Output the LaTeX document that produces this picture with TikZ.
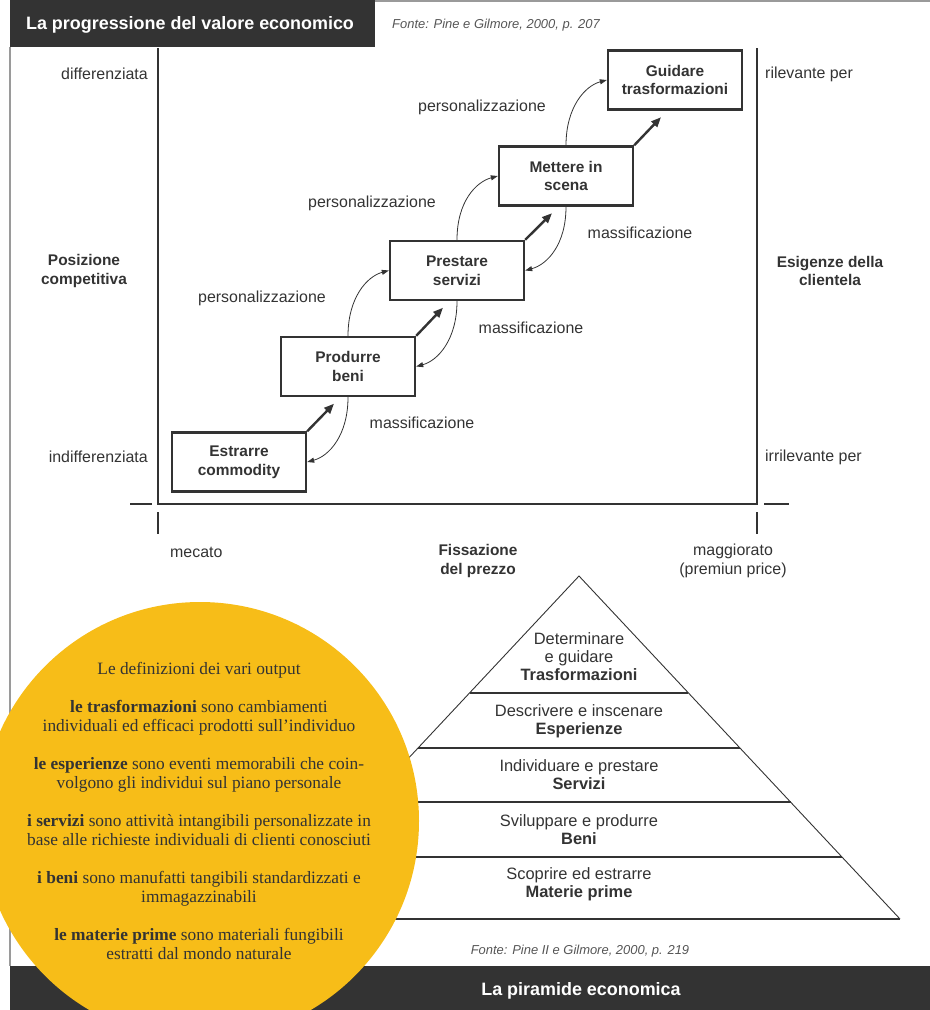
\documentclass[tikz,border=0pt]{standalone}
\usepackage{fontspec}
\setmainfont{Liberation Sans}
\newfontfamily\circfont{Liberation Serif}
\usetikzlibrary{arrows.meta,calc}
\definecolor{dk}{HTML}{333333}
\definecolor{yel}{HTML}{F7BD18}
\definecolor{fr}{HTML}{9A9A9A}
\definecolor{src}{HTML}{555555}
\begin{document}
\begin{tikzpicture}[x=1bp,y=-1bp,
  stepbox/.style={draw=dk, line width=2.4bp, minimum width=134bp, minimum height=59bp, inner sep=0pt, align=center, text=dk, font=\fontsize{15.5}{19}\selectfont\bfseries},
  lbl/.style={text=dk, font=\fontsize{16}{19}\selectfont, inner sep=0pt},
  blbl/.style={text=dk, font=\fontsize{15.5}{18.5}\selectfont\bfseries, align=center, inner sep=0pt},
  pyrlbl/.style={text=dk, font=\fontsize{16.5}{18}\selectfont, align=center, inner sep=0pt},
  srclbl/.style={text=src, font=\fontsize{13}{15}\selectfont\itshape, inner sep=0pt},
  barlbl/.style={text=white, font=\fontsize{18}{20}\selectfont\bfseries, inner sep=0pt},
  thickarr/.style={draw=dk, line width=2.4bp, -{Triangle[length=10bp,width=8bp]}},
  thinarr/.style={draw=dk, line width=0.8bp, -{Triangle[length=7bp,width=5bp]}},
  circtext/.style={text=dk, font=\circfont\fontsize{17.4}{19}\selectfont, align=center, inner sep=0pt},
  divline/.style={draw=dk, line width=2bp},
  frameline/.style={draw=fr, line width=2bp},
  axisline/.style={draw=dk, line width=1.1bp}
]
\useasboundingbox (0,0) rectangle (930,1010);
\clip (0,0) rectangle (930,1010);

% frame
\draw[frameline] (10,47) -- (10,966);
\draw[frameline] (375,1) -- (930,1);
\fill[dk] (10,0) rectangle (375,47);
\node[barlbl] (title) at (190,25) {La progressione del valore economico};
\node[srclbl, anchor=west] (src1) at (392,25) {Fonte: Pine e Gilmore, 2000, p. 207};

% axes
\draw[axisline] (158,48) -- (158,504) -- (757,504) -- (757,48);
\draw[axisline] (130,504) -- (152,504);
\draw[axisline] (764,504) -- (789,504);
\draw[axisline] (158,512) -- (158,534);
\draw[axisline] (757,512) -- (757,534);

% boxes
\node[stepbox] (E) at (239,462) {Estrarre\\commodity};
\node[stepbox] (P) at (348,366.5) {Produrre\\beni};
\node[stepbox] (S) at (457,270.5) {Prestare\\servizi};
\node[stepbox] (M) at (566,176) {Mettere in\\scena};
\node[stepbox] (G) at (675,80) {Guidare\\trasformazioni};

% thick arrows
\draw[thickarr] (E.north east) -- ($(P.south)+(-14,6.5)$);
\draw[thickarr] (P.north east) -- ($(S.south)+(-14,6.5)$);
\draw[thickarr] (S.north east) -- ($(M.south)+(-14,6.5)$);
\draw[thickarr] (M.north east) -- ($(G.south)+(-14,6.5)$);

% massificazione
\draw[thinarr] (P.south) .. controls +(0,38) and +(22,-6) .. (E.east);
\draw[thinarr] (S.south) .. controls +(0,38) and +(22,-6) .. (P.east);
\draw[thinarr] (M.south) .. controls +(0,38) and +(22,-6) .. (S.east);
% personalizzazione
\draw[thinarr] (P.north) .. controls +(0,-38) and +(-22,6) .. (S.west);
\draw[thinarr] (S.north) .. controls +(0,-38) and +(-22,6) .. (M.west);
\draw[thinarr] (M.north) .. controls +(0,-38) and +(-22,6) .. (G.west);

\node[lbl] (pz1) at (262,298) {personalizzazione};
\node[lbl] (pz2) at (372,203) {personalizzazione};
\node[lbl] (pz3) at (482,107) {personalizzazione};
\node[lbl] (ms1) at (422,423) {massificazione};
\node[lbl] (ms2) at (531,328) {massificazione};
\node[lbl] (ms3) at (640,233) {massificazione};

% side labels
\node[lbl, anchor=east] (dif) at (148,74) {differenziata};
\node[lbl, anchor=east] (indif) at (148,457) {indifferenziata};
\node[blbl] (pos) at (84,271) {Posizione\\competitiva};
\node[lbl, anchor=west] (ril) at (765,74) {rilevante per};
\node[lbl, anchor=west] (irril) at (765,457) {irrilevante per};
\node[blbl] (esig) at (830,271) {Esigenze della\\clientela};
\node[lbl, anchor=west] (mec) at (170,552) {mecato};
\node[blbl] (fiss) at (478,561) {Fissazione\\del prezzo};
\node[lbl, align=center] (magg) at (733,561) {maggiorato\\(premiun price)};

% pyramid
\coordinate (apex) at (579,576);
\coordinate (bl) at (258,919);
\coordinate (br) at (900,919);
\draw[dk, line width=0.9bp] (bl) -- (apex) -- (br);
\draw[divline] (bl) -- (br);
\foreach \t in {0.341,0.5015,0.659,0.819}
  \draw[divline] ($(apex)!\t!(bl)$) -- ($(apex)!\t!(br)$);
\node[pyrlbl] (t1) at (579,657) {Determinare\\e guidare\\\textbf{Trasformazioni}};
\node[pyrlbl] (t2) at (579,721) {Descrivere e inscenare\\\textbf{Esperienze}};
\node[pyrlbl] (t3) at (579,775) {Individuare e prestare\\\textbf{Servizi}};
\node[pyrlbl] (t4) at (579,830) {Sviluppare e produrre\\\textbf{Beni}};
\node[pyrlbl] (t5) at (579,884) {Scoprire ed estrarre\\\textbf{Materie prime}};
\node[srclbl] (src2) at (580,951) {Fonte: Pine II e Gilmore, 2000, p. 219};

% bottom bar
\fill[dk] (10,966) rectangle (930,1010);
\node[barlbl] (title2) at (581,991) {La piramide economica};

% circle
\fill[yel] (200,821) circle [radius=219bp];
\node[circtext] (ct) at (199,811) {Le definizioni dei vari output\\[19bp]
\textbf{le trasformazioni} sono cambiamenti\\individuali ed efficaci prodotti sull’individuo\\[19bp]
\textbf{le esperienze} sono eventi memorabili che coin-\\volgono gli individui sul piano personale\\[19bp]
\textbf{i servizi} sono attività intangibili personalizzate in\\base alle richieste individuali di clienti conosciuti\\[19bp]
\textbf{i beni} sono manufatti tangibili standardizzati e\\immagazzinabili\\[19bp]
\textbf{le materie prime} sono materiali fungibili\\estratti dal mondo naturale};
\end{tikzpicture}
\end{document}
